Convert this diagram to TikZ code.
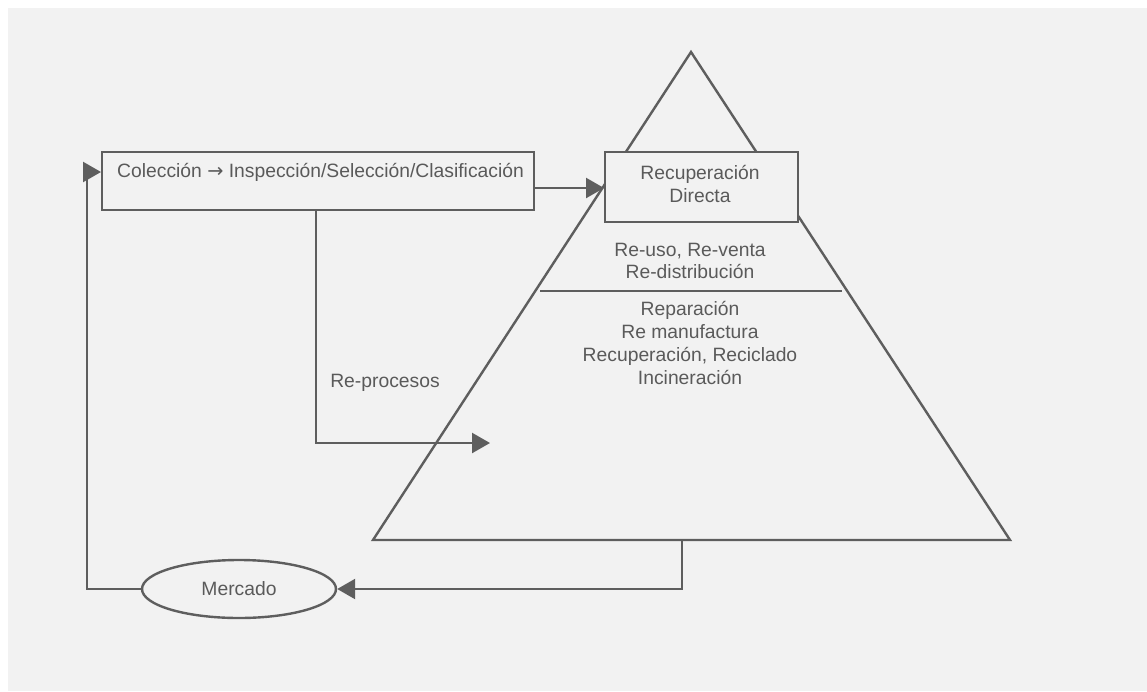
\documentclass[tikz,border=0pt]{standalone}
\usepackage{fontspec}
\setmainfont{Liberation Sans}
\newfontfamily\arrowfont{DejaVu Sans}
\usetikzlibrary{arrows.meta,shapes.geometric}
\definecolor{bg}{HTML}{F2F2F2}
\definecolor{ln}{HTML}{5E5E5E}
\definecolor{tx}{HTML}{5A5A5A}
\tikzset{
  line/.style={draw=ln, line width=2.4pt},
  arr/.style={line, -{Triangle[length=18pt,width=20pt]}},
  lbl/.style={text=tx, font=\fontsize{19.3}{22.7}\selectfont, inner sep=0pt},
  boxx/.style={line, fill=bg, inner sep=0pt, minimum width=#1},
}
\begin{document}
\begin{tikzpicture}[x=1pt,y=-1pt]
\useasboundingbox (0,0) rectangle (1147,691);
\fill[white] (0,0) rectangle (1147,691);
\fill[bg] (8,8) rectangle (1147,691);
% pyramid
\draw[line, line join=miter] (691,52) -- (1010,540) -- (373,540) -- cycle;
% Colección box
\node[boxx=432pt, minimum height=58pt, anchor=north west] (col) at (101,151) {};
\node[lbl, anchor=west] (coltxt) at (117,172) {Colección {\arrowfont →} Inspección/Selección/Clasificación};
% Recuperación directa box
\node[boxx=193pt, minimum height=70pt, anchor=north west] (rec) at (604,151) {};
\node[lbl, align=center] (rectxt) at (700,184) {Recuperación\\Directa};
% inner texts
\node[lbl, align=center] (t1) at (690,261) {Re-uso, Re-venta\\Re-distribución};
\coordinate (dl) at (540,291);
\coordinate (dr) at (842,291);
\draw[line, line width=2pt] (dl) -- (dr);
\node[lbl, align=center] (t2) at (690,343) {Reparación\\Re manufactura\\Recuperación, Reciclado\\Incineración};
% Mercado
\node[line, ellipse, minimum width=194pt, minimum height=58pt, inner sep=0pt, fill=bg] (mer) at (239,589) {};
\node[lbl] (mertxt) at (239,589) {Mercado};
% connectors
\draw[arr] (col.east |- 0,188) -- (rec.west |- 0,188);
\coordinate (rp) at (490,443);
\draw[arr] (316,209) -- (316,443) -- (rp);
\node[lbl] (rptxt) at (385,383) {Re-procesos};
\coordinate (bt) at (682,540);
\draw[arr] (bt) -- (682,589) -- (mer.east);
\draw[arr] (mer.west) -- (87,589) -- (87,172) -- (col.west |- 0,172);
\end{tikzpicture}
\end{document}
